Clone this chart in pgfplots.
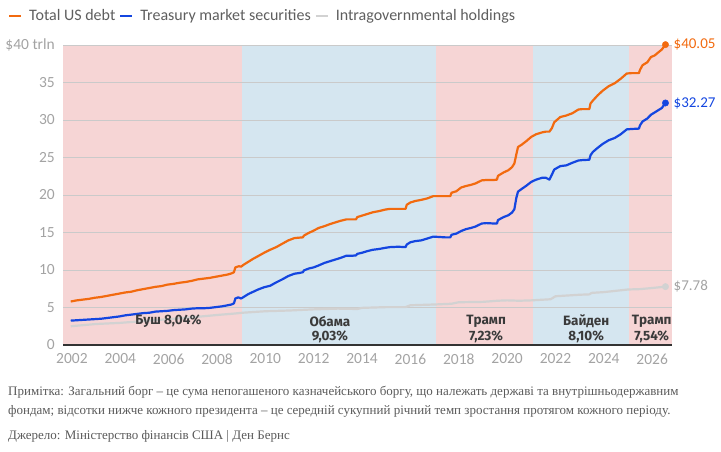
\documentclass[border=0pt]{standalone}
\usepackage{fontspec}
\setmainfont{Carlito}
\newfontfamily\labfont{Fira Sans}
\newfontfamily\notefont{Liberation Serif}
\usepackage{pgfplots}
\pgfplotsset{compat=1.18}
\definecolor{debtorange}{HTML}{F26A0F}
\definecolor{mktblue}{HTML}{1446E0}
\definecolor{intragray}{HTML}{D2D2D2}
\definecolor{pinkbg}{HTML}{F6D5D5}
\definecolor{bluebg}{HTML}{D5E6F0}
\definecolor{gridgray}{HTML}{CACACA}
\definecolor{tickgray}{HTML}{A3A3A3}
\definecolor{legendgray}{HTML}{5E5E5E}
\definecolor{axisdark}{HTML}{333333}
\definecolor{labdark}{HTML}{3A3A3A}
\definecolor{notegray}{HTML}{5A5A5A}
\begin{document}
\begin{tikzpicture}[x=1pt,y=1pt]
\path (0,0) rectangle (721,452);
\begin{axis}[
  set layers,
  at={(63pt,107pt)}, anchor=south west,
  scale only axis, width=609pt, height=300pt,
  xmin=2001.63, xmax=2026.82, ymin=0, ymax=40,
  axis x line*=bottom, axis y line*=left,
  x axis line style={draw=axisdark, line width=1.4pt},
  y axis line style={draw=none},
  major tick length=0pt,
  xtick={2002,2004,...,2026},
  xticklabels={2002,2004,2006,2008,2010,2012,2014,2016,2018,2020,2022,2024,2026},
  ytick={0,5,...,40},
  yticklabels={0,5,10,15,20,25,30,35,\$40 trln},
  ymajorgrids, major grid style={draw=gridgray, line width=0.8pt},
  tick label style={font=\fontsize{15.5}{17}\selectfont, text=tickgray},
  xticklabel style={anchor=north, inner sep=0pt, yshift=-8.5pt},
  yticklabel style={anchor=east, inner sep=0pt, xshift=-8pt},
  clip=false,
  legend style={at={(-0.0903,1.0967)}, anchor=west, draw=none, fill=none, inner sep=0pt,
    font=\fontsize{16}{18}\selectfont, text=legendgray,
    nodes={inner sep=0pt},
    /tikz/every even column/.append style={column sep=4pt},
    /tikz/every odd column/.append style={column sep=7pt}},
  legend columns=-1,
  legend image code/.code={\draw[#1, line width=2pt] (0pt,0pt) -- (12pt,0pt);},
]
% presidential terms
\addplot[draw=none, fill=pinkbg, on layer=axis background, forget plot] coordinates {(2001.63,40) (2009.05,40)} \closedcycle;
\addplot[draw=none, fill=bluebg, on layer=axis background, forget plot] coordinates {(2009.05,40) (2017.05,40)} \closedcycle;
\addplot[draw=none, fill=pinkbg, on layer=axis background, forget plot] coordinates {(2017.05,40) (2021.05,40)} \closedcycle;
\addplot[draw=none, fill=bluebg, on layer=axis background, forget plot] coordinates {(2021.05,40) (2025.05,40)} \closedcycle;
\addplot[draw=none, fill=pinkbg, on layer=axis background, forget plot] coordinates {(2025.05,40) (2026.82,40)} \closedcycle;

% Total US debt
\addplot[debtorange, line width=2.2pt, line join=round] coordinates {
(2001.95,5.80)(2002.2,5.95)(2002.45,6.05)(2002.7,6.15)(2002.95,6.30)(2003.2,6.40)(2003.45,6.55)(2003.7,6.70)(2003.95,6.85)(2004.2,7.00)(2004.45,7.10)(2004.7,7.30)(2004.95,7.45)(2005.2,7.60)(2005.45,7.75)(2005.7,7.85)(2005.95,8.05)(2006.2,8.15)(2006.45,8.30)(2006.7,8.40)(2006.95,8.55)(2007.2,8.75)(2007.45,8.85)(2007.7,8.95)(2007.95,9.10)(2008.2,9.25)(2008.45,9.40)(2008.6,9.55)(2008.7,9.70)(2008.76,10.35)(2008.9,10.50)(2009.0,10.45)(2009.1,10.70)(2009.3,11.10)(2009.5,11.50)(2009.7,11.85)(2009.95,12.30)(2010.2,12.70)(2010.45,13.05)(2010.7,13.50)(2010.95,13.95)(2011.2,14.25)(2011.35,14.30)(2011.55,14.35)(2011.6,14.60)(2011.8,14.95)(2012.0,15.25)(2012.2,15.60)(2012.45,15.85)(2012.7,16.15)(2012.95,16.40)(2013.1,16.55)(2013.35,16.75)(2013.6,16.75)(2013.75,16.75)(2013.8,17.05)(2014.0,17.25)(2014.2,17.45)(2014.45,17.70)(2014.7,17.85)(2014.95,18.05)(2015.15,18.15)(2015.5,18.15)(2015.8,18.15)(2015.85,18.70)(2016.0,19.00)(2016.2,19.20)(2016.45,19.35)(2016.7,19.55)(2016.95,19.85)(2017.2,19.85)(2017.45,19.85)(2017.65,19.85)(2017.7,20.30)(2017.9,20.50)(2018.1,21.00)(2018.3,21.20)(2018.5,21.35)(2018.7,21.55)(2018.95,21.95)(2019.15,22.00)(2019.45,22.00)(2019.58,22.05)(2019.62,22.55)(2019.85,23.00)(2020.05,23.30)(2020.2,23.70)(2020.3,24.20)(2020.38,25.40)(2020.45,26.40)(2020.6,26.70)(2020.8,27.20)(2021.0,27.75)(2021.2,28.10)(2021.45,28.35)(2021.6,28.45)(2021.75,28.45)(2021.85,28.90)(2021.95,29.70)(2022.2,30.40)(2022.45,30.60)(2022.7,30.90)(2022.95,31.40)(2023.1,31.45)(2023.4,31.45)(2023.45,32.20)(2023.55,32.60)(2023.75,33.30)(2023.95,33.90)(2024.2,34.50)(2024.45,34.90)(2024.7,35.50)(2024.95,36.20)(2025.15,36.25)(2025.45,36.25)(2025.5,36.70)(2025.6,37.30)(2025.8,37.70)(2025.95,38.40)(2026.1,38.60)(2026.25,39.00)(2026.4,39.40)(2026.55,40.05)};
\addlegendentry{Total US debt}

% Treasury market securities
\addplot[mktblue, line width=2.2pt, line join=round] coordinates {
(2001.95,3.25)(2002.2,3.30)(2002.45,3.35)(2002.7,3.40)(2002.95,3.45)(2003.2,3.50)(2003.45,3.60)(2003.7,3.70)(2003.95,3.80)(2004.2,3.95)(2004.45,4.05)(2004.7,4.15)(2004.95,4.25)(2005.2,4.30)(2005.45,4.45)(2005.7,4.50)(2005.95,4.55)(2006.2,4.65)(2006.45,4.70)(2006.7,4.75)(2006.95,4.85)(2007.2,4.90)(2007.45,4.90)(2007.7,4.95)(2007.95,5.05)(2008.2,5.15)(2008.45,5.30)(2008.6,5.40)(2008.7,5.55)(2008.76,6.20)(2008.88,6.35)(2009.0,6.20)(2009.1,6.40)(2009.3,6.80)(2009.5,7.10)(2009.7,7.40)(2009.95,7.70)(2010.2,7.90)(2010.45,8.35)(2010.7,8.75)(2010.95,9.20)(2011.2,9.50)(2011.4,9.60)(2011.55,9.70)(2011.6,9.95)(2011.8,10.20)(2012.0,10.35)(2012.2,10.60)(2012.45,10.95)(2012.7,11.20)(2012.95,11.45)(2013.1,11.60)(2013.35,11.90)(2013.6,11.90)(2013.75,11.95)(2013.8,12.15)(2014.0,12.30)(2014.2,12.50)(2014.45,12.70)(2014.7,12.80)(2014.95,12.95)(2015.15,13.05)(2015.5,13.10)(2015.8,13.05)(2015.85,13.40)(2016.0,13.70)(2016.2,13.85)(2016.45,13.95)(2016.7,14.20)(2016.95,14.45)(2017.2,14.40)(2017.45,14.35)(2017.65,14.35)(2017.7,14.70)(2017.9,14.85)(2018.1,15.20)(2018.3,15.45)(2018.5,15.60)(2018.7,15.80)(2018.95,16.20)(2019.15,16.25)(2019.45,16.20)(2019.58,16.20)(2019.62,16.65)(2019.85,17.05)(2020.05,17.30)(2020.2,17.65)(2020.3,18.10)(2020.38,19.60)(2020.45,20.45)(2020.6,20.80)(2020.8,21.25)(2021.0,21.75)(2021.2,22.05)(2021.45,22.30)(2021.6,22.30)(2021.75,22.05)(2021.85,22.70)(2021.95,23.40)(2022.2,23.85)(2022.45,23.95)(2022.7,24.30)(2022.95,24.60)(2023.1,24.65)(2023.4,24.70)(2023.45,25.30)(2023.55,25.75)(2023.75,26.30)(2023.95,26.80)(2024.2,27.30)(2024.45,27.60)(2024.7,28.10)(2024.95,28.75)(2025.15,28.80)(2025.45,28.85)(2025.5,29.30)(2025.6,29.80)(2025.8,30.20)(2025.95,30.70)(2026.1,31.00)(2026.25,31.30)(2026.4,31.60)(2026.55,32.27)};
\addlegendentry{Treasury market securities}

% Intragovernmental holdings
\addplot[intragray, line width=2.2pt, line join=round] coordinates {
(2001.95,2.50)(2003,2.80)(2004,2.95)(2005,3.20)(2006,3.45)(2007,3.70)(2008,4.00)(2008.75,4.20)(2009.05,4.30)(2010,4.50)(2011,4.60)(2012,4.75)(2013,4.85)(2013.8,4.80)(2014,4.95)(2015,5.05)(2015.8,5.05)(2016,5.30)(2017,5.40)(2017.7,5.50)(2018,5.70)(2019,5.75)(2019.6,5.90)(2020,5.95)(2020.5,5.90)(2021,5.95)(2021.8,6.10)(2022,6.50)(2023,6.70)(2023.4,6.75)(2023.5,6.95)(2024,7.05)(2025,7.40)(2025.5,7.45)(2026,7.60)(2026.55,7.78)};
\addlegendentry{Intragovernmental holdings}

% end dots
\addplot[debtorange, only marks, mark=*, mark size=3.2pt, forget plot] coordinates {(2026.55,40.05)};
\addplot[mktblue, only marks, mark=*, mark size=3.2pt, forget plot] coordinates {(2026.55,32.27)};
\addplot[intragray, only marks, mark=*, mark size=3.2pt, forget plot] coordinates {(2026.55,7.78)};

% end labels
\node[anchor=west, inner sep=0pt, text=debtorange, font=\fontsize{15}{17}\selectfont, xshift=8pt] at (axis cs:2026.55,40.05) {\$40.05};
\node[anchor=west, inner sep=0pt, text=mktblue, font=\fontsize{15}{17}\selectfont, xshift=8pt] at (axis cs:2026.55,32.27) {\$32.27};
\node[anchor=west, inner sep=0pt, text=tickgray, font=\fontsize{15}{17}\selectfont, xshift=8pt] at (axis cs:2026.55,7.78) {\$7.78};

% president labels
\node[inner sep=0pt, text=labdark, font=\labfont\bfseries\fontsize{13.5}{15}\selectfont] at (axis cs:2005.99,3.2) {Буш 8,04\%};
\node[inner sep=0pt, text=labdark, font=\labfont\bfseries\fontsize{13.5}{15}\selectfont] at (axis cs:2012.67,3.2) {Обама};
\node[inner sep=0pt, text=labdark, font=\labfont\bfseries\fontsize{13.5}{15}\selectfont] at (axis cs:2012.67,1.07) {9,03\%};
\node[inner sep=0pt, text=labdark, font=\labfont\bfseries\fontsize{13.5}{15}\selectfont] at (axis cs:2019.13,3.2) {Трамп};
\node[inner sep=0pt, text=labdark, font=\labfont\bfseries\fontsize{13.5}{15}\selectfont] at (axis cs:2019.13,1.07) {7,23\%};
\node[inner sep=0pt, text=labdark, font=\labfont\bfseries\fontsize{13.5}{15}\selectfont] at (axis cs:2023.27,3.2) {Байден};
\node[inner sep=0pt, text=labdark, font=\labfont\bfseries\fontsize{13.5}{15}\selectfont] at (axis cs:2023.27,1.07) {8,10\%};
\node[inner sep=0pt, text=labdark, font=\labfont\bfseries\fontsize{13.5}{15}\selectfont] at (axis cs:2025.98,3.2) {Трамп};
\node[inner sep=0pt, text=labdark, font=\labfont\bfseries\fontsize{13.5}{15}\selectfont] at (axis cs:2025.98,1.07) {7,54\%};
\end{axis}
\node[anchor=base west, inner sep=0pt, text=notegray, font=\notefont\fontsize{13}{15}\selectfont] at (8,56) {Примітка: Загальний борг – це сума непогашеного казначейського боргу, що належать державі та внутрішньодержавним};
\node[anchor=base west, inner sep=0pt, text=notegray, font=\notefont\fontsize{13}{15}\selectfont] at (8,37) {фондам; відсотки нижче кожного президента – це середній сукупний річний темп зростання протягом кожного періоду.};
\node[anchor=base west, inner sep=0pt, text=notegray, font=\notefont\fontsize{13}{15}\selectfont] at (8,12) {Джерело: Міністерство фінансів США | Ден Бернс};
\end{tikzpicture}
\end{document}
